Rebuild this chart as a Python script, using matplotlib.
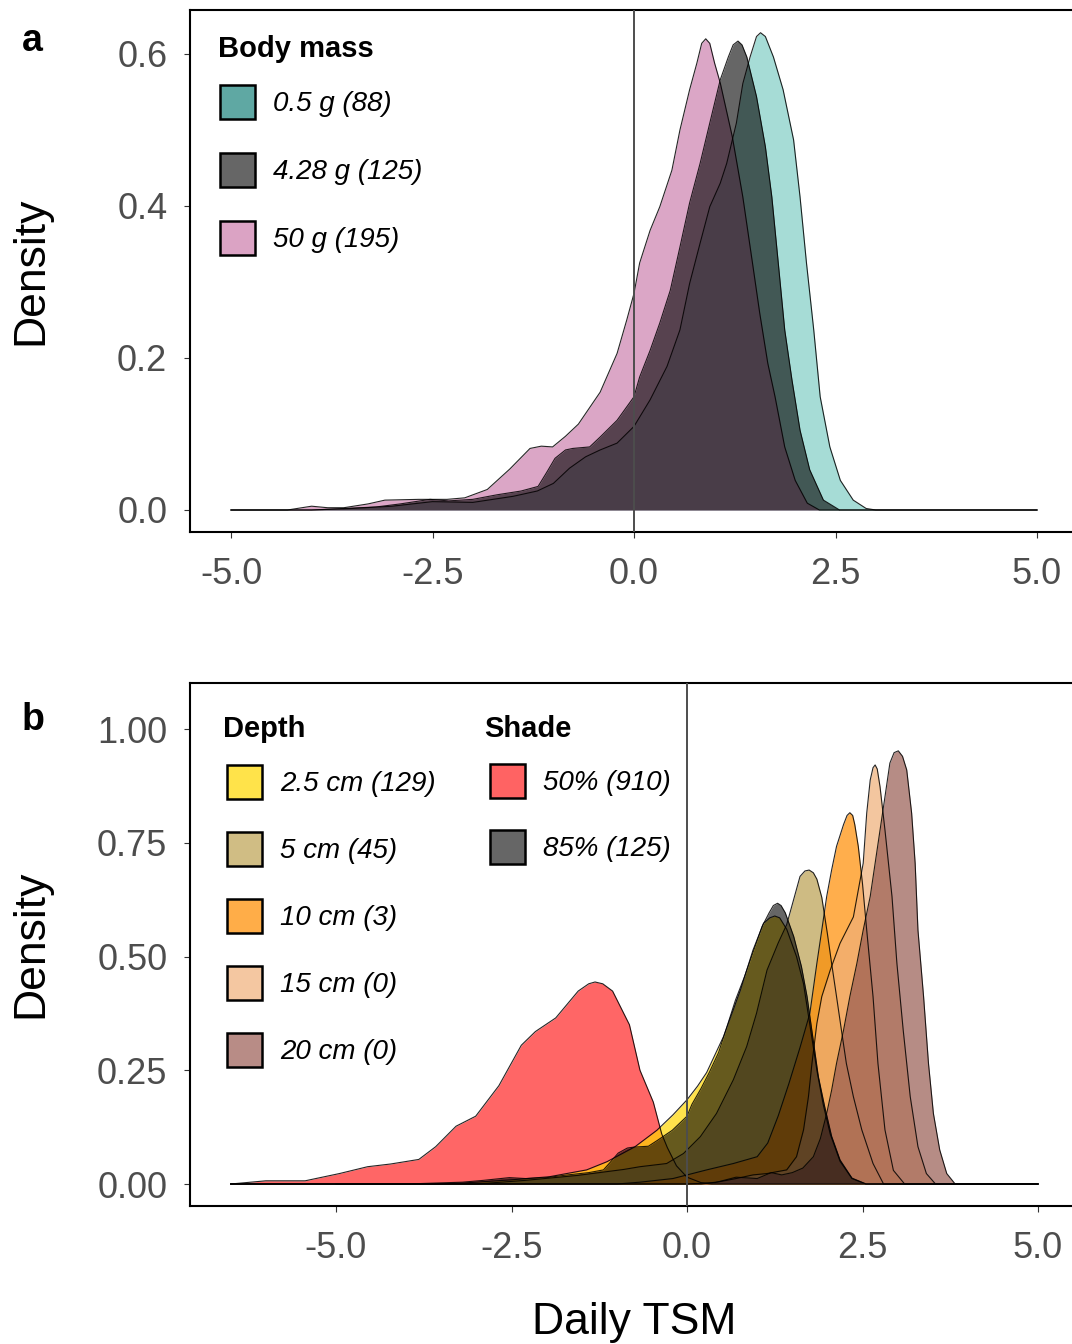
import matplotlib
matplotlib.use("Agg")
import matplotlib.pyplot as plt
from matplotlib.patches import Rectangle

plt.rcParams['font.family'] = ['Liberation Sans', 'DejaVu Sans']
plt.rcParams['axes.unicode_minus'] = False

W, H = 1072, 1344

# ---------------- panel a : body mass ----------------
mass_labels = ['0.5 g (88)', '4.28 g (125)', '50 g (195)']

teal_x = [-5.0, -4.0, -3.5, -3.0, -2.5, -2.0, -1.5, -1.2, -1.0, -0.8, -0.6, -0.42, -0.21, 0.0, 0.2,
          0.41, 0.57, 0.69, 0.82, 0.94, 1.07, 1.15, 1.27, 1.35, 1.44, 1.52, 1.57, 1.63, 1.73, 1.85,
          1.98, 2.06, 2.14, 2.23, 2.31, 2.43, 2.56, 2.72, 2.88, 3.0, 5.0]
teal_y = [0, 0, 0.002, 0.005, 0.011, 0.010, 0.018, 0.025, 0.035, 0.055, 0.070, 0.079, 0.088, 0.110, 0.145,
          0.189, 0.237, 0.298, 0.351, 0.399, 0.430, 0.456, 0.509, 0.561, 0.596, 0.623, 0.628, 0.623, 0.596, 0.553,
          0.487, 0.412, 0.325, 0.237, 0.149, 0.083, 0.039, 0.013, 0.002, 0, 0]

# same 125 days also used for the 85% shade curve in panel b
grey_x = [-5.0, -4.0, -3.6, -3.2, -2.9, -2.53, -2.3, -2.0, -1.7, -1.4, -1.19, -1.08, -0.98, -0.85, -0.76,
          -0.55, -0.42, -0.21, 0.0, 0.07, 0.2, 0.32, 0.45, 0.57, 0.69, 0.82, 0.94, 1.07, 1.17, 1.23,
          1.29, 1.34, 1.40, 1.52, 1.63, 1.71, 1.79, 1.87, 1.96, 2.06, 2.18, 2.35, 2.55, 5.0]
grey_y = [0, 0, 0.002, 0.004, 0.008, 0.014, 0.012, 0.014, 0.020, 0.025, 0.031, 0.050, 0.068, 0.079, 0.081,
          0.083, 0.096, 0.118, 0.149, 0.175, 0.210, 0.246, 0.289, 0.346, 0.404, 0.456, 0.509, 0.566, 0.596, 0.612,
          0.617, 0.612, 0.596, 0.544, 0.478, 0.412, 0.325, 0.237, 0.171, 0.105, 0.053, 0.013, 0, 0]

pink_x = [-5.0, -4.3, -4.0, -3.8, -3.6, -3.3, -3.09, -2.67, -2.32, -2.1, -1.82, -1.54, -1.29, -1.15, -1.01,
          -0.85, -0.69, -0.42, -0.21, -0.09, 0.0, 0.07, 0.2, 0.32, 0.47, 0.57, 0.69, 0.78, 0.84, 0.89,
          0.94, 1.0, 1.07, 1.22, 1.35, 1.47, 1.56, 1.66, 1.75, 1.87, 2.0, 2.15, 2.3, 5.0]
pink_y = [0, 0, 0.005, 0.003, 0.003, 0.008, 0.013, 0.014, 0.014, 0.016, 0.027, 0.054, 0.081, 0.084, 0.083,
          0.097, 0.113, 0.155, 0.206, 0.250, 0.285, 0.325, 0.368, 0.399, 0.447, 0.500, 0.553, 0.588, 0.614, 0.620,
          0.614, 0.588, 0.562, 0.491, 0.412, 0.325, 0.259, 0.193, 0.149, 0.083, 0.039, 0.009, 0, 0]

# ---------------- panel b : depth and shade ----------------
depth_labels = ['2.5 cm (129)', '5 cm (45)', '10 cm (3)', '15 cm (0)', '20 cm (0)']
shade_labels = ['50% (910)', '85% (125)']

red_x = [-6.5, -6.0, -5.44, -4.95, -4.55, -4.22, -3.82, -3.58, -3.29, -3.01, -2.68, -2.36, -2.16, -1.87,
         -1.55, -1.4, -1.31, -1.2, -1.06, -0.82, -0.67, -0.48, -0.36, -0.28, -0.15, 0.0, 0.2, 0.35, 5.0]
red_y = [0, 0.007, 0.007, 0.023, 0.038, 0.044, 0.054, 0.082, 0.127, 0.149, 0.216, 0.305, 0.335, 0.365,
         0.424, 0.440, 0.444, 0.440, 0.424, 0.350, 0.250, 0.180, 0.110, 0.080, 0.040, 0.015, 0.003, 0, 0]

yel_x = [-6.5, -3.6, -3.2, -2.52, -1.96, -1.43, -1.14, -0.74, -0.43, -0.2, 0.0, 0.15, 0.28, 0.52, 0.76,
         0.94, 1.09, 1.18, 1.25, 1.32, 1.42, 1.56, 1.66, 1.76, 1.85, 1.94, 2.04, 2.18, 2.35, 2.55, 5.0]
yel_y = [0, 0, 0.002, 0.009, 0.016, 0.031, 0.049, 0.082, 0.118, 0.152, 0.185, 0.215, 0.245, 0.324, 0.426,
         0.514, 0.573, 0.585, 0.589, 0.585, 0.560, 0.500, 0.440, 0.340, 0.250, 0.175, 0.110, 0.050, 0.012,
         0, 0]

tan_x = [-6.5, -3.0, -2.3, -1.55, -0.9, -0.67, -0.29, -0.05, 0.19, 0.42, 0.66, 0.85, 0.99, 1.14, 1.3,
         1.42, 1.51, 1.61, 1.68, 1.74, 1.8, 1.85, 1.92, 2.0, 2.06, 2.13, 2.2, 2.27, 2.37, 2.49, 2.65, 2.8, 5.0]
tan_y = [0, 0, 0.008, 0.019, 0.032, 0.038, 0.045, 0.067, 0.104, 0.155, 0.229, 0.302, 0.375, 0.470, 0.530,
         0.570, 0.620, 0.676, 0.688, 0.690, 0.684, 0.670, 0.630, 0.550, 0.485, 0.412, 0.338, 0.265, 0.192,
         0.119, 0.045, 0, 0]

org_x = [-6.5, -1.0, -0.67, -0.2, 0.28, 0.66, 1.0, 1.15, 1.3, 1.45, 1.61, 1.75, 1.85, 1.92, 1.99, 2.06,
         2.13, 2.23, 2.28, 2.32, 2.36, 2.39, 2.44, 2.5, 2.56, 2.65, 2.72, 2.82, 2.94, 3.1, 5.0]
org_y = [0, 0, 0.004, 0.012, 0.031, 0.045, 0.060, 0.090, 0.150, 0.220, 0.300, 0.375, 0.485, 0.558, 0.632,
         0.690, 0.742, 0.790, 0.810, 0.816, 0.810, 0.790, 0.742, 0.660, 0.558, 0.412, 0.265, 0.119, 0.030, 0, 0]

pch_x = [-6.5, 0.2, 0.46, 0.7, 0.94, 1.14, 1.42, 1.56, 1.66, 1.73, 1.78, 1.85, 1.92, 2.04, 2.18, 2.37,
         2.51, 2.56, 2.61, 2.65, 2.68, 2.71, 2.75, 2.82, 2.92, 2.99, 3.08, 3.18, 3.29, 3.41, 3.54, 5.0]
pch_y = [0, 0, 0.005, 0.012, 0.020, 0.023, 0.031, 0.060, 0.119, 0.192, 0.265, 0.353, 0.412, 0.470, 0.529,
         0.587, 0.705, 0.815, 0.888, 0.915, 0.921, 0.912, 0.873, 0.778, 0.632, 0.485, 0.338, 0.192, 0.082,
         0.023, 0, 0]

brn_x = [-6.5, 0.0, 0.4, 0.7, 1.0, 1.2, 1.35, 1.5, 1.65, 1.8, 1.9, 1.99, 2.06, 2.13, 2.23, 2.32, 2.42,
         2.51, 2.61, 2.68, 2.75, 2.82, 2.89, 2.95, 3.01, 3.07, 3.13, 3.2, 3.25, 3.29, 3.37, 3.44, 3.51, 3.6,
         3.7, 3.82, 5.0]
brn_y = [0, 0, 0.003, 0.015, 0.012, 0.025, 0.020, 0.025, 0.035, 0.060, 0.100, 0.155, 0.206, 0.265, 0.338,
         0.412, 0.485, 0.558, 0.632, 0.705, 0.778, 0.851, 0.925, 0.948, 0.952, 0.940, 0.910, 0.815, 0.705,
         0.558, 0.412, 0.265, 0.155, 0.075, 0.023, 0, 0]


def fx(px):
    return px / W


def fy(py):
    return 1 - py / H


def density(ax, x, y, color, alpha):
    ax.fill_between(x, y, 0, color=color, alpha=alpha, linewidth=0)
    ax.plot(x, y, color='black', lw=0.8, alpha=0.85)


def style_axis(ax, xticks, xlabels, yticks, ylabels):
    ax.set_xticks(xticks)
    ax.set_xticklabels(xlabels)
    ax.set_yticks(yticks)
    ax.set_yticklabels(ylabels)
    ax.tick_params(direction='out', length=4.3, width=0.8, color='#333333',
                   labelsize=26, labelcolor='#4d4d4d')
    ax.tick_params(axis='y', pad=12)
    ax.tick_params(axis='x', pad=14)
    for s in ax.spines.values():
        s.set_linewidth(1.5)
        s.set_color('black')
    ax.axvline(0, color='#4d4d4d', lw=1.4, zorder=10)


def legend_key(fig, x0, y0, x1, y1, color, text):
    fig.patches.append(Rectangle((fx(x0), fy(y1)), (x1 - x0) / W, (y1 - y0) / H,
                                 transform=fig.transFigure, facecolor=color,
                                 edgecolor='black', linewidth=1.8))
    fig.text(fx(x1 + 18), fy((y0 + y1) / 2 + 2), text, fontsize=20, style='italic',
             ha='left', va='center')


fig = plt.figure(figsize=(W / 100, H / 100), dpi=100)

# panel a
ax_a = fig.add_axes([fx(190), fy(532), (1075 - 190) / W, (532 - 10) / H])
density(ax_a, teal_x, teal_y, '#6BC6BC', 0.6)
density(ax_a, pink_x, pink_y, '#C36BA0', 0.6)
density(ax_a, grey_x, grey_y, 'black', 0.6)
ax_a.set_xlim((190 - 634) / 80.6, (1075 - 634) / 80.6)
ax_a.set_ylim((510 - 532) / 760, (510 - 10) / 760)
style_axis(ax_a, [-5, -2.5, 0, 2.5, 5], ['-5.0', '-2.5', '0.0', '2.5', '5.0'],
           [0, 0.2, 0.4, 0.6], ['0.0', '0.2', '0.4', '0.6'])

# panel b
ax_b = fig.add_axes([fx(190), fy(1206), (1075 - 190) / W, (1206 - 683) / H])
density(ax_b, red_x, red_y, '#FF0000', 0.6)
density(ax_b, yel_x, yel_y, '#FFD700', 0.7)
density(ax_b, tan_x, tan_y, '#BA9F4F', 0.7)
density(ax_b, org_x, org_y, '#FF8C00', 0.7)
density(ax_b, pch_x, pch_y, '#EEAE77', 0.7)
density(ax_b, brn_x, brn_y, '#975B52', 0.7)
density(ax_b, grey_x, grey_y, 'black', 0.6)
ax_b.set_xlim((190 - 687) / 70.2, (1075 - 687) / 70.2)
ax_b.set_ylim((1184 - 1206) / 455, (1184 - 683) / 455)
style_axis(ax_b, [-5, -2.5, 0, 2.5, 5], ['-5.0', '-2.5', '0.0', '2.5', '5.0'],
           [0, 0.25, 0.5, 0.75, 1.0], ['0.00', '0.25', '0.50', '0.75', '1.00'])

# axis titles and panel letters
fig.text(fx(31), fy(271), 'Density', fontsize=32, rotation=90, ha='center', va='center')
fig.text(fx(31), fy(944), 'Density', fontsize=32, rotation=90, ha='center', va='center')
fig.text(fx(634), fy(1334), 'Daily TSM', fontsize=32, ha='center', va='baseline')
fig.text(fx(22), fy(51), 'a', fontsize=27, fontweight='bold', ha='left', va='baseline')
fig.text(fx(22), fy(730), 'b', fontsize=27, fontweight='bold', ha='left', va='baseline')

# legend panel a
fig.text(fx(218), fy(57), 'Body mass', fontsize=21, fontweight='bold', ha='left', va='baseline')
mass_keys = ['#5FA8A3', '#666666', '#DBA3C4']
for i, (lab, col) in enumerate(zip(mass_labels, mass_keys)):
    y0 = 85 + 68 * i
    legend_key(fig, 220, y0, 255, y0 + 34, col, lab)

# legend panel b
fig.text(fx(223), fy(737), 'Depth', fontsize=21, fontweight='bold', ha='left', va='baseline')
fig.text(fx(484), fy(737), 'Shade', fontsize=21, fontweight='bold', ha='left', va='baseline')
depth_keys = ['#FFE34A', '#D0BD84', '#FFAD48', '#F4C7A1', '#B88C86']
for i, (lab, col) in enumerate(zip(depth_labels, depth_keys)):
    y0 = 765 + 67 * i
    legend_key(fig, 227, y0, 262, y0 + 34, col, lab)
shade_keys = ['#FF6363', '#666666']
for i, (lab, col) in enumerate(zip(shade_labels, shade_keys)):
    y0 = 764 + 65.5 * i
    legend_key(fig, 490, y0, 525, y0 + 34, col, lab)

fig.savefig('out.png', dpi=100)
